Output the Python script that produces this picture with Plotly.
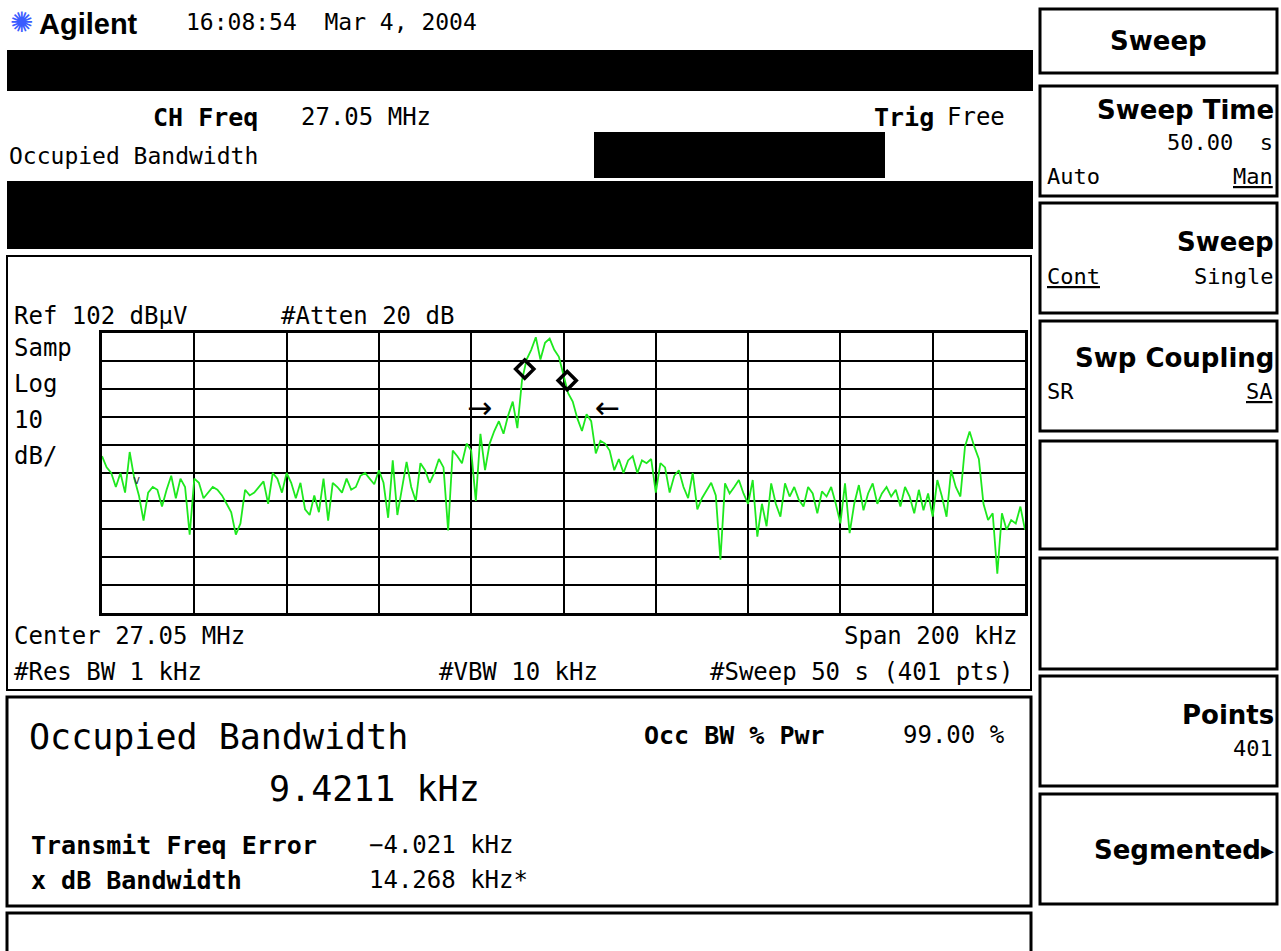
import plotly.graph_objects as go

center_mhz = 27.05
span_khz = 200
ref_level_dbuv = 102
db_per_div = 10

offset_khz = list(range(-100, 101))  # 1 kHz steps across the 200 kHz span

level_dbuv = [
    # -100 .. -67
    58, 54, 52, 47, 52, 45, 59.5, 50, 44, 35,
    45, 47, 46, 40, 46, 51, 43, 50, 47, 30,
    50, 48.5, 43, 45, 47, 46, 44, 41, 38, 30,
    34, 46, 44, 45,
    # -66 .. -34
    47, 49, 41, 52, 50, 45, 52, 48.5, 43, 48.5,
    39, 37, 44, 38, 50, 35, 48.5, 47, 45, 50,
    46, 47, 51, 52, 50, 48, 53, 48.5, 36, 56.5,
    37, 46, 56,
    # -33 .. 0
    47, 42, 55.5, 53, 48.5, 52, 57, 54, 31.5, 60,
    58, 55.5, 62.5, 60, 42, 66, 53, 62.5, 67, 70.5,
    66, 72.5, 77.5, 68, 85, 92.5, 96, 100.5, 92.5, 98.5,
    100, 96, 93.5, 86.5,
    # 1 .. 34
    80.5, 77.5, 71.5, 67, 73, 70.5, 59, 63.5, 62.5, 60,
    53, 57, 52, 56.5, 58, 52, 56.5, 55.5, 57, 45,
    55.5, 54, 45, 51, 53, 47, 43, 52, 39, 43,
    46, 48.5, 44, 21,
    # 35 .. 67
    48.3, 44.7, 47, 49.5, 44.7, 41, 49.5, 29.3, 41, 33,
    48.3, 41, 36.4, 48.3, 43.6, 47, 42.4, 40, 47, 44.7,
    37.6, 45.4, 43.6, 47, 41, 34, 48.3, 30.5, 41, 47.7,
    38.7, 44.7, 48.3,
    # 68 .. 100
    41, 44.7, 47, 43.6, 46, 40, 47, 43.6, 37.6, 46,
    38.7, 44.7, 36.4, 49.5, 43.6, 36.4, 53, 47, 43.6, 61.5,
    66.8, 61.5, 57, 41, 35.2, 37.6, 16, 37.6, 31.7, 35.2,
    34, 40, 31.7,
]
assert len(level_dbuv) == len(offset_khz)

marker_offset_khz = [-8.4, 0.8]
marker_level_dbuv = [89.1, 85.0]

# ---------------- figure ----------------
W, H = 1281, 951
MONO = "DejaVu Sans Mono"
SANS = "DejaVu Sans"


def px(x):
    return x / W


def py(y):
    return 1 - y / H


freq_mhz = [center_mhz + f / 1000 for f in offset_khz]
fmin = center_mhz - span_khz / 2000
fmax = center_mhz + span_khz / 2000

fig = go.Figure()
fig.add_trace(go.Scatter(
    x=freq_mhz, y=level_dbuv, mode="lines",
    line=dict(color="#1ee81e", width=1.8), hoverinfo="skip", showlegend=False,
))
fig.add_trace(go.Scatter(
    x=[center_mhz + f / 1000 for f in marker_offset_khz], y=marker_level_dbuv,
    mode="markers",
    marker=dict(symbol="diamond-open", size=14, color="black", line=dict(width=3.5, color="black")),
    hoverinfo="skip", showlegend=False,
))

fig.update_layout(
    width=W, height=H, autosize=False,
    margin=dict(l=0, r=0, t=0, b=0),
    paper_bgcolor="white", plot_bgcolor="white",
    showlegend=False,
    xaxis=dict(
        domain=[px(102), px(1025)], range=[fmin, fmax],
        tick0=fmin, dtick=span_khz / 10000,
        showgrid=True, gridcolor="black", gridwidth=2,
        showticklabels=False, ticks="", zeroline=False,
        showline=True, mirror=True, linecolor="black", linewidth=3,
    ),
    yaxis=dict(
        domain=[py(613), py(333)],
        range=[ref_level_dbuv - 10 * db_per_div, ref_level_dbuv],
        tick0=ref_level_dbuv, dtick=db_per_div,
        showgrid=True, gridcolor="black", gridwidth=2,
        showticklabels=False, ticks="", zeroline=False,
        showline=True, mirror=True, linecolor="black", linewidth=3,
    ),
)

shapes = []


def rect(x0, y0, x1, y1, fill=None, lw=2):
    shapes.append(dict(
        type="rect", xref="paper", yref="paper",
        x0=px(x0), x1=px(x1), y0=py(y1), y1=py(y0),
        line=dict(color="black", width=lw if fill is None else 0),
        fillcolor=fill if fill else "rgba(0,0,0,0)", layer="below" if fill else "above",
    ))


# black masked bars in the header
rect(7, 50, 1033, 91, fill="black")
rect(594, 132, 885, 178, fill="black")
rect(7, 181, 1033, 249, fill="black")
# frames
rect(7, 256, 1031, 690, lw=2)
rect(7, 697, 1031, 906, lw=3)
rect(7, 913, 1031, 958, lw=3)
# softkey boxes
for y0, y1 in [(9, 73), (86, 196), (203, 313), (321, 431), (441, 549),
               (558, 669), (676, 786), (794, 904)]:
    rect(1040, y0, 1277, y1, lw=3)

fig.update_layout(shapes=shapes)


def txt(x, y, s, size=24, anchor="left", family=MONO, color="black"):
    fig.add_annotation(
        x=px(x), y=py(y), xref="paper", yref="paper", text=s, showarrow=False,
        xanchor=anchor, yanchor="middle", borderpad=0,
        font=dict(family=family, size=size, color=color),
    )


# header
txt(21, 23, "✺", 28, anchor="center", family=SANS, color="#3a5cff")
txt(38, 24, "<b>Agilent</b>", 29, family="Liberation Sans")
txt(185, 22, "16:08:54\u00a0\u00a0Mar 4, 2004", 23)
txt(152, 117, "<b>CH Freq</b>", 25)
txt(300, 117, "27.05 MHz", 24)
txt(873, 117, "<b>Trig</b>", 25)
txt(1006, 117, "Free", 24, anchor="right")
txt(8, 156, "Occupied Bandwidth", 23)

# graticule annotations
txt(13, 316, "Ref 102 dBµV", 24)
txt(280, 316, "#Atten 20 dB", 24)
for yy, s in [(348, "Samp"), (384, "Log"), (420, "10"), (456, "dB/")]:
    txt(13, yy, s, 24)
txt(13, 636, "Center 27.05 MHz", 24)
txt(1018, 636, "Span 200 kHz", 24, anchor="right")
txt(13, 672, "#Res BW 1 kHz", 24)
txt(438, 672, "#VBW 10 kHz", 24)
txt(1014, 672, "#Sweep 50 s (401 pts)", 24, anchor="right")

# OBW markers / arrows
txt(479, 407, "→", 30, anchor="center", family=SANS)
txt(607, 407, "←", 30, anchor="center", family=SANS)
txt(136, 480, "v", 12, anchor="center", family=MONO, color="#333333")

# results panel
txt(28, 737, "Occupied Bandwidth", 35)
txt(268, 789, "9.4211 kHz", 35)
txt(643, 735, "<b>Occ BW % Pwr</b>", 25)
txt(1006, 735, "99.00 %", 24, anchor="right")
txt(30, 845, "<b>Transmit Freq Error</b>", 25)
txt(368, 845, "−4.021 kHz", 24)
txt(30, 880, "<b>x dB Bandwidth</b>", 25)
txt(368, 880, "14.268 kHz*", 24)

# softkeys
txt(1158, 41, "<b>Sweep</b>", 26, anchor="center", family=SANS)
txt(1275, 110, "<b>Sweep Time</b>", 26, anchor="right", family=SANS)
txt(1274, 143, "50.00\u00a0\u00a0s", 22, anchor="right")
txt(1046, 177, "Auto", 22)
txt(1274, 177, "<u>Man</u>", 22, anchor="right")
txt(1275, 242, "<b>Sweep</b>", 26, anchor="right", family=SANS)
txt(1046, 277, "<u>Cont</u>", 22)
txt(1274, 277, "Single", 22, anchor="right")
txt(1275, 358, "<b>Swp Coupling</b>", 26, anchor="right", family=SANS)
txt(1046, 391, "SR", 22)
txt(1274, 391, "<u>SA</u>", 22, anchor="right")
txt(1275, 715, "<b>Points</b>", 26, anchor="right", family=SANS)
txt(1274, 748, "401", 22, anchor="right")
txt(1275, 850, "<b>Segmented▸</b>", 26, anchor="right", family=SANS)

fig.write_html(
    "out.html",
    config={"displayModeBar": False},
    post_script="document.body.style.margin='0';document.body.style.overflow='hidden';"
                "document.documentElement.style.overflow='hidden';",
)
